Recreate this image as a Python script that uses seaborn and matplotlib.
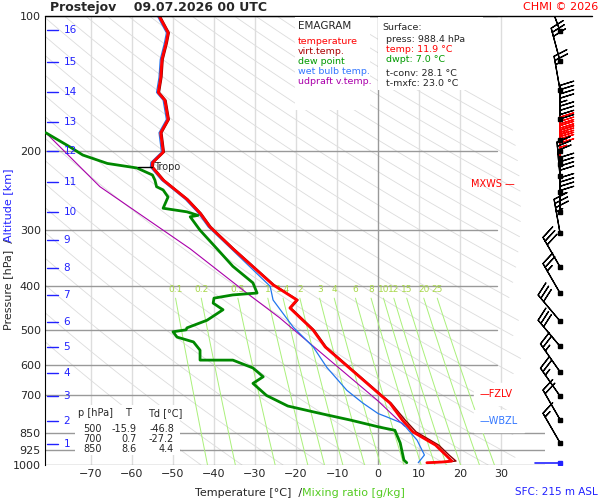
import numpy as np
import seaborn as sns
import matplotlib
matplotlib.use('Agg')
import matplotlib.pyplot as plt
from matplotlib.lines import Line2D

sns.set_style('white')
plt.rcParams['font.family'] = ['DejaVu Sans']

# sounding (p [hPa], T [C])
temp = [(988.4, 11.9), (985, 15.5), (980, 18.0), (950, 16.5), (903, 14.0), (844, 8.5),
        (794, 5.9), (728, 2.9), (700, 0.7), (691, 0.0), (546, -12.9), (500, -15.9),
        (447, -21.5), (429, -19.8), (397, -25.6), (330, -35.4), (295, -41.0),
        (275, -43.4), (256, -46.6), (232, -52.4), (217, -55.1), (212, -55.0),
        (201, -52.4), (182, -53.0), (170, -51.2), (154, -52.0), (148, -53.6),
        (137, -53.0), (125, -52.7), (115, -51.7), (109, -51.2), (100, -53.4)]
dewp = [(988.4, 7.0), (975, 6.3), (893, 5.4), (837, 4.1), (824, 0.5), (794, -6.8),
        (768, -14.0), (739, -22.0), (700, -27.2), (658, -30.5), (636, -28.0),
        (608, -30.5), (584, -35.4), (584, -43.4), (555, -43.4), (532, -45.0),
        (519, -49.0), (505, -50.0), (500, -46.8), (495, -46.6), (476, -41.7),
        (451, -37.8), (436, -40.2), (425, -40.0), (418, -35.4), (414, -29.5),
        (393, -30.5), (361, -35.4), (332, -39.0), (300, -43.4), (280, -45.8),
        (278, -43.9), (273, -46.6), (268, -52.4), (253, -51.2), (244, -52.4),
        (240, -54.0), (232, -54.4), (226, -55.0), (218, -58.8), (213, -66.0),
        (204, -72.0), (196, -75.0), (182, -81.0)]
wetb = [(988.4, 9.8), (950, 11.3), (880, 9.5), (808, 6.0), (782, 2.2), (768, 0.0),
        (728, -3.7), (682, -7.6), (606, -12.5), (546, -15.8), (493, -20.7),
        (429, -25.6), (400, -26.3)] + [(p, t - 0.4) for p, t in temp if p < 390]
virt = [(988.4, 12.5), (985, 16.5), (980, 19.0), (950, 17.3), (903, 14.8), (844, 9.3),
        (794, 6.6)] + [(p, t + 0.3) for p, t in temp if p < 780]
parcel = [(820, 6.5), (720, 0.0), (470, -24.0), (414, -32.0), (330, -45.8),
          (240, -67.8), (182, -81.0)]

T0, T1 = -81.2, 40.7
fig = plt.figure(figsize=(6, 5), dpi=100)
ax = fig.add_axes([45/600, 35/500, 500/600, 449/500])
ax.set_yscale('log')
ax.set_ylim(1000, 100)
ax.set_xlim(T0, T1)

# dry adiabats
pp = np.logspace(2, 3, 60)
for th in np.arange(230, 520, 10):
    t = th * (pp / 1000) ** 0.286 - 273.15
    m = t < 35
    ax.plot(t[m], pp[m], color='#dcdcdc', lw=0.6, zorder=1)
# mixing ratio lines
pm = np.linspace(425, 1000, 30)
for w in [0.1, 0.2, 0.5, 1, 1.4, 2, 3, 4, 6, 8, 10, 12, 15, 20, 25]:
    e = w * pm / (622 + w)
    x = np.log(e / 6.112)
    td = 243.5 * x / (17.67 - x)
    ax.plot(td, pm, color='#aaf07a', lw=0.7, zorder=2)
    ax.text(td[0], 415, str(w), color='#a8d84a', fontsize=6.5, ha='center', va='bottom', zorder=3)

for t in range(-70, 31, 10):
    ax.axvline(t, color='#999999' if t == 0 else '#dddddd', lw=1, zorder=1)
for p in [100, 200, 300, 400, 500, 600, 700]:
    ax.plot([T0, 29], [p, p], color='#999999', lw=1, zorder=1)
for p in [850, 925, 1000]:
    ax.axhline(p, color='#999999', lw=1, zorder=1)

for data, col, lw in [(parcel, '#aa00aa', 0.8), (wetb, '#2277ee', 0.9),
                      (dewp, '#008800', 2), (virt, '#880000', 1.0), (temp, '#ff0000', 2)]:
    d = np.array(data)
    ax.plot(d[:, 1], d[:, 0], color=col, lw=lw, zorder=5)

ax.set_yticks([100, 200, 300, 400, 500, 600, 700, 850, 925, 1000])
ax.set_yticklabels(['100', '200', '300', '400', '500', '600', '700', '850', '925', '1000'])
ax.yaxis.set_minor_locator(matplotlib.ticker.NullLocator())
ax.set_xticks(range(-70, 31, 10))
ax.tick_params(labelsize=8, length=0, pad=3)
for s in ['right', 'bottom', 'top']:
    ax.spines[s].set_visible(False)
ax.spines['left'].set_color('black')

# altitude ticks
km_y = {16: 30, 15: 62, 14: 92, 13: 122, 12: 151, 11: 182, 10: 212, 9: 240, 8: 268,
        7: 295, 6: 322, 5: 347, 4: 373, 3: 396, 2: 421, 1: 444}
for k, y in km_y.items():
    p = 100 * 10 ** ((y - 16) / 449)
    ax.plot([T0 + 0.5, T0 + 3.2], [p, p], color='#2222ff', lw=1, zorder=6)
    ax.text(T0 + 4.5, p, str(k), color='#2222ff', fontsize=7.5, va='center', zorder=6)

# wind barbs
wax = fig.add_axes([500/600, 35/500, 100/600, 449/500])
wax.set_yscale('log')
wax.set_ylim(1000, 100)
wax.set_xlim(-1, 1)
wax.axis('off')
wp = [108, 126, 146, 170, 189, 200, 207, 214, 227, 246, 273, 304, 362, 414, 478, 544, 620, 702, 792, 892]
wd = [340, 345, 350, 0, 0, 0, 0, 0, 355, 0, 0, 350, 330, 330, 320, 320, 325, 325, 330, 330]
ws = [25, 30, 25, 45, 40, 45, 45, 45, 30, 40, 45, 35, 30, 25, 30, 30, 25, 25, 20, 15]
wr = np.deg2rad(wd)
u = -np.array(ws) * np.sin(wr)
v = -np.array(ws) * np.cos(wr)
cols = ['red' if 198 < p < 216 else 'black' for p in wp]
wax.barbs(np.full(len(wp), 0.2), wp, u, v, length=7, color=cols, lw=0.9)
wax.plot(np.full(len(wp), 0.2), wp, 'ks', ms=2.5)
wax.plot([-0.3, 0.2], [988, 988], color='#2222ff', lw=1.2)
wax.plot([0.2], [988], 's', color='#2222ff', ms=3)

def ft(x, y, s, **kw):
    fig.text(x / 600, 1 - y / 500, s, **kw)

fig.add_artist(Line2D([45/600, 592/600], [1 - 16/500, 1 - 16/500], color='black', lw=1))
ft(50, 7, 'Prostejov    09.07.2026 00 UTC', fontsize=9, fontweight='bold', va='center')
ft(598, 7, 'CHMI © 2026', fontsize=8, color='red', ha='right', va='center')
ft(598, 492, 'SFC: 215 m ASL', fontsize=7.5, color='#2222ff', ha='right', va='center')
ft(195, 493, 'Temperature [°C]  /', fontsize=8, va='center')
ft(302, 493, 'Mixing ratio [g/kg]', fontsize=8, color='#55cc22', va='center')
ft(8, 330, 'Pressure [hPa]  /', fontsize=8, rotation=90, ha='center', va='bottom')
ft(8, 242, 'Altitude [km]', fontsize=8, rotation=90, ha='center', va='bottom', color='#2222ff')

# legend boxes
fig.patches.append(plt.Rectangle((295/600, 1 - 110/500), 75/600, 93/500, transform=fig.transFigure,
                                 facecolor='white', edgecolor='none', zorder=3))
fig.patches.append(plt.Rectangle((378/600, 1 - 90/500), 105/600, 73/500, transform=fig.transFigure,
                                 facecolor='white', edgecolor='none', zorder=3))
fig.patches.append(plt.Rectangle((75/600, 1 - 455/500), 105/600, 50/500, transform=fig.transFigure,
                                 facecolor='white', edgecolor='none', zorder=3))
ft(298, 26, 'EMAGRAM', fontsize=7.5, va='center', zorder=4)
for i, (s, c) in enumerate([('temperature', 'red'), ('virt.temp.', '#aa0000'), ('dew point', '#009900'),
                            ('wet bulb temp.', '#3377ff'), ('udpraft v.temp.', '#aa00aa')]):
    ft(298, 42 + 10 * i, s, fontsize=6.8, color=c, va='center', zorder=4)
ft(382, 27, 'Surface:', fontsize=6.8, va='center', zorder=4)
ft(386, 40, 'press: 988.4 hPa', fontsize=6.8, va='center', zorder=4)
ft(386, 50, 'temp: 11.9 °C', fontsize=6.8, color='red', va='center', zorder=4)
ft(386, 60, 'dwpt: 7.0 °C', fontsize=6.8, color='#009900', va='center', zorder=4)
ft(386, 74, 't-conv: 28.1 °C', fontsize=6.8, va='center', zorder=4)
ft(386, 84, 't-mxfc: 23.0 °C', fontsize=6.8, va='center', zorder=4)
ft(78, 413, 'p [hPa]', fontsize=7, va='center', zorder=4)
ft(128, 413, 'T', fontsize=7, ha='center', va='center', zorder=4)
ft(148, 413, 'Td [°C]', fontsize=7, va='center', zorder=4)
for i, (p, t, td) in enumerate([('500', '-15.9', '-46.8'), ('700', '0.7', '-27.2'), ('850', '8.6', '4.4')]):
    y = 429 + 10 * i
    ft(102, y, p, fontsize=7, ha='right', va='center', zorder=4)
    ft(137, y, t, fontsize=7, ha='right', va='center', zorder=4)
    ft(174, y, td, fontsize=7, ha='right', va='center', zorder=4)

ax.plot([-58.5, -55], [217, 217], color='black', lw=1, zorder=6)
ax.text(-54.5, 217, 'Tropo', fontsize=7, va='center', zorder=6)
ft(515, 184, 'MXWS —', fontsize=7, color='red', ha='right', va='center')
ft(480, 394, '—FZLV', fontsize=7, color='red', va='center', backgroundcolor='white')
ft(480, 421, '—WBZL', fontsize=7, color='#3377ff', va='center', backgroundcolor='white')

fig.savefig('out.png', dpi=100)
